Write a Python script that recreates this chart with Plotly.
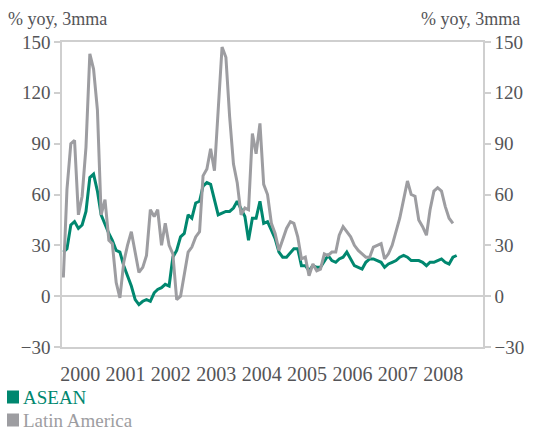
import pandas as pd
import plotly.graph_objects as go

# Monthly export growth, % year on year, three-month moving average
months = pd.date_range("2000-02-01", periods=105, freq="MS")

asean = [
    26, 28, 42, 44, 40, 42, 50, 70, 72, 62,
    48, 42, 37, 33, 27, 26, 18, 12, 6, -2,
    -5, -3, -2, -3, 2, 4, 5, 7, 6, 23,
    27, 35, 37, 48, 46, 55, 56, 65, 67, 66,
    56, 48, 49, 50, 50, 52, 56, 51, 47, 33,
    46, 46, 56, 43, 44, 39, 34, 26, 23, 23,
    26, 28, 28, 18, 18, 15, 18, 17, 17, 21,
    24, 21, 20, 22, 23, 26, 22, 18, 17, 16,
    20, 22, 22, 21, 20, 17, 19, 20, 21, 23,
    24, 23, 21, 21, 21, 20, 18, 20, 20, 21,
    22, 20, 19, 23, 24,
]

latin_america = [
    11, 63, 90, 92, 48, 59, 88, 143, 134, 110,
    48, 57, 33, 31, 8, -1, 20, 30, 38, 26,
    14, 17, 24, 51, 47, 51, 30, 43, 30, 25,
    -2, 0, 13, 26, 29, 35, 38, 71, 75, 87,
    74, 112, 147, 141, 106, 78, 67, 48, 52, 51,
    96, 84, 102, 66, 60, 43, 37, 27, 33, 40,
    44, 43, 35, 22, 23, 12, 19, 15, 16, 25,
    24, 26, 26, 36, 41, 38, 35, 30, 27, 25,
    23, 23, 29, 30, 31, 22, 25, 30, 38, 46,
    57, 68, 60, 59, 45, 41, 36, 51, 62, 64,
    62, 53, 46, 43,
]

years = [str(y) for y in range(2000, 2009)]
year_ticks = [f"{y}-06-15" for y in years]
y_ticks = [-30, 0, 30, 60, 90, 120, 150]

GREEN = "#00876f"
GREY = "#9d9da1"
AXIS = "#cfcfcf"
TEXT = "#545457"
FONT = "Liberation Serif"

fig = go.Figure()
fig.add_trace(go.Scatter(
    x=months[:len(latin_america)], y=latin_america, name="Latin America",
    mode="lines", line=dict(color=GREY, width=3), yaxis="y2",
    showlegend=False,
))
fig.add_trace(go.Scatter(
    x=months[:len(asean)], y=asean, name="ASEAN",
    mode="lines", line=dict(color=GREEN, width=3),
    showlegend=False,
))

yax = dict(
    range=[-30, 150], tickvals=y_ticks, showgrid=False,
    showline=True, linecolor=AXIS, linewidth=1.5,
    ticks="outside", ticklen=6, tickcolor=AXIS, tickwidth=1.5,
    tickfont=dict(family=FONT, size=19, color=TEXT),
    zeroline=True, zerolinecolor=AXIS, zerolinewidth=1.5,
    fixedrange=True,
)

fig.update_layout(
    width=542, height=430,
    margin=dict(l=62, r=59, t=42, b=83),
    paper_bgcolor="white", plot_bgcolor="white",
    font=dict(family=FONT, size=19, color=TEXT),
    xaxis=dict(
        type="date", range=["2000-01-21", "2009-05-01"],
        tickvals=year_ticks, ticktext=years, ticks="",
        showgrid=False, showline=True, linecolor=AXIS, linewidth=1.5,
        mirror=True, tickfont=dict(family=FONT, size=20, color=TEXT),
        ticklabelstandoff=8,
    ),
    yaxis=dict(side="left", **yax),
    yaxis2=dict(side="right", overlaying="y", **yax),
    showlegend=False,
)

# Unit labels above both axes
for xp, anchor in [((7 - 62) / 421, "left"), ((521 - 62) / 421, "right")]:
    fig.add_annotation(
        text="% yoy, 3mma", xref="paper", yref="paper",
        x=xp, y=(347 - 19) / 305, xanchor=anchor, yanchor="middle",
        showarrow=False, borderpad=0,
        font=dict(family=FONT, size=18, color=TEXT),
    )

# Key below the chart
for label, color, cy in [("ASEAN", GREEN, 397), ("Latin America", GREY, 420)]:
    fig.add_shape(
        type="rect", xref="paper", yref="paper",
        x0=(7 - 62) / 421, x1=(19 - 62) / 421,
        y0=(347 - (cy + 6.5)) / 305, y1=(347 - (cy - 6.5)) / 305,
        fillcolor=color, line=dict(width=0),
    )
    fig.add_annotation(
        text=label, xref="paper", yref="paper",
        x=(21 - 62) / 421, y=(347 - cy) / 305,
        xanchor="left", yanchor="middle", showarrow=False,
        font=dict(family=FONT, size=19, color=color),
    )

fig.write_html("out.html")
